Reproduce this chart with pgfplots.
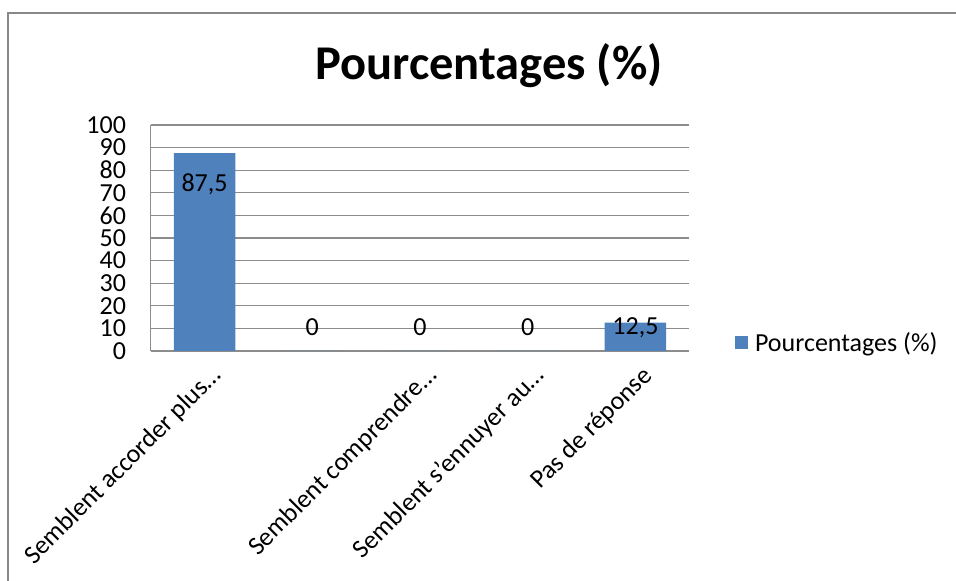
\documentclass[border=0pt]{standalone}
\usepackage{pgfplots}
\pgfplotsset{compat=1.18}
\usepackage{fontspec}
\setmainfont{Carlito}
\definecolor{barblue}{HTML}{4F81BD}
\definecolor{gridgray}{HTML}{8C8C8C}
\definecolor{bordergray}{HTML}{898989}
\newcommand{\lab}{\fontsize{26}{31}\selectfont}
\begin{document}
\begin{tikzpicture}
\path[use as bounding box] (0,0) rectangle (956pt,581pt);
\draw[bordergray, line width=2pt] (8pt,-2pt) -- (8pt,568pt) -- (960pt,568pt);
\node[anchor=base, font=\fontsize{48.5}{58}\selectfont\bfseries] at (489pt,501pt) {Pourcentages (\%)};
\begin{axis}[
  at={(150.7pt,230pt)}, anchor=south west,
  scale only axis, width=538.6pt, height=226pt,
  xmin=-0.5, xmax=4.5, ymin=0, ymax=100,
  ytick={0,10,...,100},
  xtick={0,1,2,3,4},
  xticklabels={{Semblent accorder plus…},{},{Semblent comprendre…},{Semblent s’ennuyer au…},{Pas de réponse}},
  axis lines=left,
  axis line style={-, draw=gridgray, line width=1.3pt},
  ymajorgrids, grid style={draw=gridgray, line width=1.3pt},
  major tick length=0pt,
  /pgf/number format/assume math mode=true,
  yticklabel style={font=\lab, anchor=east, inner sep=0pt, xshift=-24.5pt},
  xticklabel style={font=\lab, xshift=13pt, yshift=-21pt, rotate=45, anchor=east, inner sep=0pt},
  legend style={at={(1.0849,0.0376)}, anchor=west, draw=none, fill=none, inner sep=0pt, outer sep=0pt, column sep=7pt, nodes={inner sep=0pt, font=\lab}},
  clip=false,
]
\addplot[ybar, bar width=61.5pt, fill=barblue, draw=none,
  legend image code/.code={\fill[barblue] (0pt,-6.5pt) rectangle (13pt,6.5pt);}]
  coordinates {(0,87.5) (1,0) (2,0) (3,0) (4,12.5)};
\addlegendentry{Pourcentages (\%)}
\addplot[draw=none, forget plot, nodes near coords, point meta=explicit symbolic,
  every node near coord/.append style={anchor=center, font=\lab, inner sep=0pt}]
  table[x=x, y=y, meta=lab] {
x y lab
0 73.9 87,5
1 10.5 0
2 10.5 0
3 10.5 0
4 10.5 12,5
};
\end{axis}
\end{tikzpicture}
\end{document}
